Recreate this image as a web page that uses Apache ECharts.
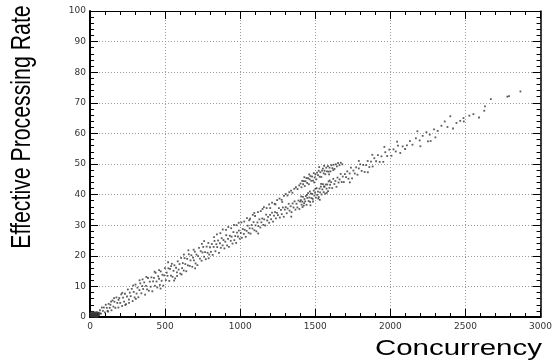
<!DOCTYPE html>
<html>
<head>
<meta charset="utf-8">
<script src="https://cdn.jsdelivr.net/npm/echarts@6/dist/echarts.min.js"></script>
<style>html,body{margin:0;padding:0;background:#fff;}#c{width:555px;height:361px;}</style>
</head>
<body>
<div id="c"></div>
<script>
const xTicks = [0, 500, 1000, 1500, 2000, 2500, 3000];
const yTicks = [0, 10, 20, 30, 40, 50, 60, 70, 80, 90, 100];
const xTitle = 'Concurrency';
const yTitle = 'Effective Processing Rate';

const originCluster = [[5,0.3],[10,0.8],[14,0.2],[18,1.1],[22,0.5],[26,0.9],[30,0.3],[34,1.2],[38,0.6],[42,0.2],[46,1.0],[50,0.5],[54,1.3],[58,0.7],[8,1.4],[20,1.6],[32,0.1],[44,1.5],[62,1.2],[12,0.5],[28,1.4],[40,1.0],[52,0.9],[3,1.0],[36,0.4],[48,0.1]];

const lowBandA = [[66,2.2],[73,1.1],[79,3.1],[86,2.0],[92,3.1],[99,1.5],[105,4.0],[112,3.0],[117,2.0],[124,4.3],[131,3.0],[136,4.0],[143,2.2],[150,5.4],[156,3.4],[163,5.0],[169,3.0],[176,6.4],[182,4.6],[189,3.1],[195,6.2],[201,4.6],[208,7.4],[214,3.6],[220,6.3],[227,5.0],[233,7.6],[240,4.2],[246,6.7],[252,9.0],[259,5.7],[265,7.95],[271,6.8],[278,9.2],[284,5.2],[291,8.2],[297,6.4],[303,10.6],[310,7.65],[316,9.6],[322,6.45],[329,8.8],[335,11.0],[342,7.75],[348,10.1],[354,9.15],[361,11.3],[367,7.3],[373,10.2],[380,9.0],[386,12.75],[392,8.6],[398,11.55],
[120,1.8],[160,6.2],[215,7.9],[260,4.6],[305,5.9],[350,12.3],[235,3.9],[288,10.3],[330,12.0],[375,13.1],[190,5.6],[140,5.0]];

const lowBandB = [[404,9.9],[409,12.95],[415,8.4],[420,11.65],[426,12.8],[432,10.2],[437,14.45],[443,11.6],[448,9.65],[454,13.3],[460,12.5],[465,10.5],[471,14.9],[477,11.85],[482,13.8],[488,10.25],[494,13.6],[499,16.0],[505,12.05],[511,14.5],[516,13.45],[522,15.9],[528,11.8],[533,15.75],[539,13.5],[545,17.4],[550,13.15],[556,15.1],[562,16.9],[567,12.6],[573,16.1],[579,14.6],[584,18.2],[590,15.5],[596,17.3],
[601,14.2],[607,19.3],[613,15.95],[618,17.6],[624,15.2],[630,19.25],[635,17.3],[641,14.95],[647,19.0],[652,16.85],[658,20.5],[664,16.7],[669,18.5],[675,20.2],[681,16.4],[686,19.4],[692,18.5],[698,21.35],[703,17.5],[709,20.4],[715,16.95],[720,19.9],[726,22.6],[732,19.05],[737,21.5],[743,18.4],[749,21.1],[754,22.9],[760,19.7],[766,21.2],[771,18.9],[777,23.0],[783,21.0],[788,24.2],[794,20.4],[799,22.8],
[430,14.8],[470,9.3],[520,17.9],[560,11.9],[610,13.9],[655,21.8],[700,15.9],[745,23.9],[790,19.2],[540,16.6],[625,20.4],[690,22.0],[760,24.8],[460,15.3],[580,13.4]];

const lowBandC = [[805,21.3],[811,23.85],[817,20.3],[823,22.9],[829,24.85],[835,21.5],[841,23.8],[847,22.85],[853,25.0],[859,20.95],[865,24.1],[871,22.6],[877,25.75],[883,23.4],[889,25.15],[895,22.4],[901,24.6],[907,26.75],[913,23.4],[919,25.55],[925,22.9],[931,26.55],[937,24.9],[943,26.25],[949,24.0],[955,27.75],[961,25.1],[967,26.45],[973,24.2],[979,27.55],[985,26.3],[991,28.25],[997,25.6]];

const lowBandD = [[1004,27.5],[1011,25.9],[1017,28.75],[1024,27.15],[1030,28.5],[1037,26.2],[1043,28.15],[1050,29.85],[1056,27.5],[1063,29.0],[1069,27.25],[1076,30.05],[1082,28.9],[1089,31.0],[1095,28.35],[1102,29.95],[1108,28.0],[1115,30.9],[1121,29.7],[1128,31.9],[1134,29.25],[1141,30.95],[1147,32.2],[1154,30.1],[1160,31.9],[1167,29.9],[1173,33.45],[1180,31.55],[1186,32.7],[1193,30.8],[1199,33.4],
[1206,31.95],[1212,34.1],[1219,31.2],[1225,33.1],[1232,34.3],[1238,32.25],[1245,34.0],[1251,33.3],[1258,35.55],[1264,32.5],[1271,35.0],[1277,33.6],[1284,35.8],[1290,32.75],[1297,35.1],[1303,35.9],[1310,33.9],[1316,35.45],[1323,37.0],[1329,34.75],[1336,36.2],[1342,34.25],[1349,37.1],[1355,35.8],[1362,37.8],[1368,35.1],[1375,37.0],[1381,35.8],[1388,38.05],[1394,35.3],[1400,37.7],
[1060,31.6],[1120,27.3],[1200,35.6],[1280,37.6],[1340,32.8],[1235,36.8],[1149,35.3],[1094,34.0]];

const lowBandE = [[1404,38.2],[1409,36.7],[1414,37.7],[1418,39.25],[1423,36.4],[1428,38.55],[1433,37.8],[1437,39.5],[1442,36.65],[1447,38.9],[1452,40.45],[1456,37.9],[1461,39.05],[1466,37.6],[1471,40.3],[1475,38.85],[1480,40.2],[1485,37.75],[1490,41.3],[1494,39.7],[1499,40.6],[1504,39.0],[1509,42.1],[1513,39.9],[1518,40.95],[1523,39.2],[1528,41.95],[1532,40.75],[1537,42.6],[1542,40.05],[1547,41.7],[1551,43.45],[1556,40.8],[1561,42.55],[1566,40.3],[1570,43.3],[1575,41.95],[1580,43.3],[1585,41.15],[1589,44.3],[1594,42.2],[1599,43.2],
[1406,39.4],[1426,37.2],[1445,39.9],[1464,41.0],[1483,38.6],[1501,41.9],[1520,38.7],[1539,43.5],[1558,42.7],[1577,40.6],[1596,44.6],[1415,35.9],[1468,36.5],[1530,38.3]];

const lowBandF = [[1606,44.05],[1613,42.15],[1620,45.15],[1627,43.45],[1634,44.45],[1641,42.55],[1648,45.55],[1655,43.95],[1662,44.95],[1669,46.75],[1676,44.1],[1683,45.9],[1690,44.1],[1697,46.7],[1705,45.7],[1713,47.6],[1721,45.2],[1729,46.9],[1737,48.8],[1745,45.3],[1754,47.85],[1763,46.9],[1772,48.9],[1781,46.5],[1790,48.55],[1799,49.9],
[1809,47.75],[1819,49.7],[1829,47.4],[1839,49.65],[1849,51.0],[1860,49.0],[1871,50.8],[1882,49.2],[1893,51.9],[1905,50.9],[1917,52.9],[1929,50.7],[1941,52.5],[1953,50.7],[1966,53.85],[1979,52.6],[1993,54.7],[2007,52.7],[2021,54.8],[2036,54.1],[2051,56.0],[2066,53.6],[2082,55.75],[2098,54.9],
[1730,44.0],[1850,47.3],[1960,55.6],[1880,53.0],[2045,57.3],[1790,51.0]];

const lowBandG = [[2110,56.1],[2130,57.5],[2147,56.3],[2170,58.4],[2195,57.7],[2215,59.2],[2240,60.4],[2262,59.6],[2290,61.3],[2315,60.8],[2340,62.5],[2362,63.9],[2380,62.1],[2399,65.6],[2417,61.6],[2440,63.4],[2465,64.1],[2487,65.0],[2489,63.9],[2526,65.8],[2553,66.3],[2590,65.2],[2630,68.8],[2625,67.4],[2669,71.2],[2779,72.0],[2790,72.2],[2866,73.7],[2200,55.8],[2300,58.7],[2180,60.7],[2250,57.4],[2268,57.5]];

const upBandC = [[826,26.1],[845,27.0],[868,27.4],[884,28.6],[906,28.5],[921,29.4],[940,29.0],[958,30.1],[975,30.0],[990,30.8]];

const upBandD = [[1008,30.9],[1027,31.2],[1045,32.3],[1066,32.1],[1084,33.4],[1099,33.0],[1118,34.3],[1137,34.6],[1158,35.9],[1176,35.6],[1193,36.8],[1212,37.4],[1229,37.0],[1246,38.2],[1262,38.7],[1276,38.3],[1291,39.6],[1303,40.2],[1315,39.7],[1327,40.8],[1339,41.3],[1348,40.6],[1360,41.9],[1371,42.4],[1382,41.8],[1393,43.0]];

const upBandE = [[1402,43.6],[1408,42.4],[1413,44.5],[1419,43.4],[1424,44.4],[1430,42.8],[1435,44.35],[1441,45.4],[1446,43.8],[1452,45.35],[1457,43.4],[1463,45.0],[1468,46.05],[1474,44.5],[1479,45.9],[1485,44.55],[1490,47.0],[1496,45.6],[1501,46.6],[1507,45.0],[1512,47.2],[1518,46.35],[1523,47.8],[1529,45.85],[1534,47.3],[1540,45.75],[1545,47.85],[1551,48.5],[1556,46.95],[1562,47.8],[1567,46.65],[1573,48.8],[1578,47.6],[1584,49.3],[1589,47.5],[1595,48.8],[1601,47.6],[1607,49.6],[1614,48.65],[1621,49.75],[1628,48.4],[1636,49.9],[1644,49.2],[1652,50.3],[1661,49.6],[1670,50.4],[1680,49.9],
[1427,45.7],[1460,46.6],[1493,44.0],[1526,49.0],[1559,49.4],[1592,46.6],[1620,48.0]];

const chart = echarts.init(document.getElementById('c'), null, {renderer: 'canvas'});

const tickFont = {fontFamily: 'DejaVu Sans', fontSize: 9, color: '#333'};
const splitLine = {show: true, lineStyle: {color: '#9a9a9a', type: [1, 2], width: 1}};

function xAx(pos, labels) {
  return {
    type: 'value', position: pos, min: xTicks[0], max: xTicks[xTicks.length - 1], interval: 500,
    axisLine: {show: true, onZero: false, lineStyle: {color: '#000', width: pos === 'bottom' ? 2 : 1.2}},
    axisTick: {show: true, inside: true, length: 8, lineStyle: {color: '#000', width: 1}},
    minorTick: {show: true, splitNumber: 5, length: 4, lineStyle: {color: '#000', width: 1}},
    axisLabel: labels ? Object.assign({show: true, margin: 5, formatter: v => String(v)}, tickFont) : {show: false},
    splitLine: labels ? splitLine : {show: false},
    minorSplitLine: {show: false}
  };
}
function yAx(pos, labels) {
  return {
    type: 'value', position: pos, min: yTicks[0], max: yTicks[yTicks.length - 1], interval: 10,
    axisLine: {show: true, onZero: false, lineStyle: {color: '#000', width: pos === 'left' ? 2 : 1.5}},
    axisTick: {show: true, inside: true, length: 8, lineStyle: {color: '#000', width: 1}},
    minorTick: {show: true, splitNumber: 5, length: 4, lineStyle: {color: '#000', width: 1}},
    axisLabel: labels ? Object.assign({show: true, margin: 4, formatter: v => String(v)}, tickFont) : {show: false},
    splitLine: labels ? splitLine : {show: false},
    minorSplitLine: {show: false}
  };
}

function sc(data, size) {
  return {
    type: 'scatter', data: data, symbol: 'rect', symbolSize: size || 1.8, silent: true,
    itemStyle: {color: '#333', opacity: 0.8}, animation: false
  };
}

chart.setOption({
  animation: false,
  grid: {left: 90, top: 11, right: 9, bottom: 44, containLabel: false},
  xAxis: [xAx('bottom', true), xAx('top', false)],
  yAxis: [yAx('left', true), yAx('right', false)],
  series: [sc(originCluster, 2.4), sc(lowBandA), sc(lowBandB), sc(lowBandC), sc(lowBandD), sc(lowBandE), sc(lowBandF), sc(lowBandG),
           sc(upBandC), sc(upBandD), sc(upBandE)],
  graphic: [
    {type: 'text', x: 542, y: 349, scaleX: 1.34, scaleY: 1,
     style: {text: xTitle, fontFamily: 'Liberation Sans, Arial, sans-serif', fontSize: 22, fill: '#000', textAlign: 'right', textVerticalAlign: 'middle'}},
    {type: 'text', x: 22, y: 127, rotation: Math.PI / 2, scaleX: 0.76, scaleY: 1,
     style: {text: yTitle, fontFamily: 'Liberation Sans, Arial, sans-serif', fontSize: 28, fill: '#000', textAlign: 'center', textVerticalAlign: 'middle'}}
  ]
});
</script>
</body>
</html>
